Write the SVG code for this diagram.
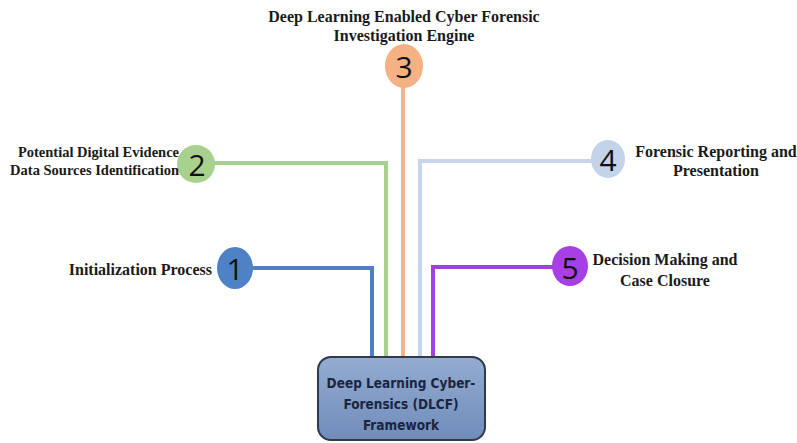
<svg xmlns="http://www.w3.org/2000/svg" width="797" height="443" viewBox="0 0 797 443">
<defs>
<linearGradient id="boxg" x1="0" y1="0" x2="0" y2="1">
<stop offset="0" stop-color="#94acd1"/>
<stop offset="1" stop-color="#6f8cba"/>
</linearGradient>
<style>
.lbl{font-family:"Liberation Serif",serif;font-weight:bold;font-size:16px;fill:#1a1a1a}
.lbl2{font-family:"Liberation Serif",serif;font-weight:bold;font-size:14.5px;fill:#1a1a1a}
.num{font-family:"Open Sans","Liberation Sans",sans-serif;font-size:30px;fill:#111;text-anchor:middle;dominant-baseline:central}
.box{font-family:"DejaVu Sans Condensed","DejaVu Sans",sans-serif;font-weight:bold;font-size:13.5px;fill:#1b2540;text-anchor:middle}
.conn{fill:none;stroke-width:4}
</style>
</defs>
<rect width="797" height="443" fill="#fff"/>
<g id="connectors">
<polyline class="conn" stroke="#4f7fc4" points="252,268 372,268 372,360"/>
<polyline class="conn" stroke="#a8d08d" points="214,163 386,163 386,360"/>
<polyline class="conn" stroke="#f4b48a" points="403,86 403,360"/>
<polyline class="conn" stroke="#c5d5ec" points="592,161 420,161 420,360"/>
<polyline class="conn" stroke="#a43ee2" points="553,267 433,267 433,360"/>
</g>
<g id="framework">
<rect x="318" y="357" width="167" height="83" rx="13" fill="url(#boxg)" stroke="#2f3b4c" stroke-width="2"/>
<text class="box" x="401" y="388">Deep Learning Cyber-</text>
<text class="box" x="401" y="409">Forensics (DLCF)</text>
<text class="box" x="401" y="430">Framework</text>
</g>
<g id="node1">
<ellipse cx="235" cy="268" rx="18" ry="21" fill="#4f81c7"/>
<text class="num" x="235" y="268">1</text>
<text class="lbl" x="212" y="275" text-anchor="end">Initialization Process</text>
</g>
<g id="node2">
<ellipse cx="196" cy="164" rx="19" ry="19" fill="#a9d18e"/>
<text class="num" x="197" y="164">2</text>
<text class="lbl2" x="179" y="157" text-anchor="end">Potential Digital Evidence</text>
<text class="lbl2" x="179" y="175" text-anchor="end">Data Sources Identification</text>
</g>
<g id="node3">
<ellipse cx="404" cy="66" rx="19" ry="22" fill="#f4b183"/>
<text class="num" x="404" y="66">3</text>
<text class="lbl" x="404" y="22" text-anchor="middle">Deep Learning Enabled Cyber Forensic</text>
<text class="lbl" x="404" y="41" text-anchor="middle">Investigation Engine</text>
</g>
<g id="node4">
<ellipse cx="608" cy="159" rx="17" ry="19" fill="#c3d3ea"/>
<text class="num" x="608" y="159">4</text>
<text class="lbl" x="716" y="157" text-anchor="middle">Forensic Reporting and</text>
<text class="lbl" x="716" y="176" text-anchor="middle">Presentation</text>
</g>
<g id="node5">
<ellipse cx="570" cy="266" rx="18" ry="20" fill="#a740e4"/>
<text class="num" x="570" y="267">5</text>
<text class="lbl" x="665" y="265" text-anchor="middle">Decision Making and</text>
<text class="lbl" x="665" y="286" text-anchor="middle">Case Closure</text>
</g>
</svg>
